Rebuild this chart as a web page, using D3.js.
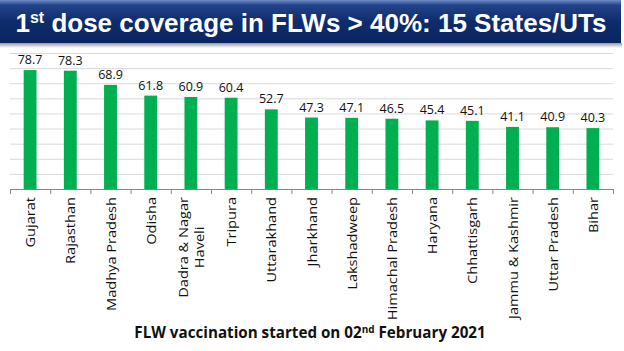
<!DOCTYPE html>
<html>
<head>
<meta charset="utf-8">
<script src="https://cdn.jsdelivr.net/npm/d3@7"></script>
<style>
  body { margin: 0; background: #fff; }
  svg { display: block; }
  .grid line { stroke: #d9d9d9; stroke-width: 1; }
  .grid .domain { display: none; }
  .xaxis .domain, .xaxis line { stroke: #868686; }
  .bar-label { font-family: "Open Sans", sans-serif; font-size: 12.5px; fill: #111; }
  .cat-label { font-family: "Open Sans", sans-serif; font-size: 13px; fill: #111; }
</style>
</head>
<body>
<div id="chart"></div>
<script>
// data
const states = ["Gujarat", "Rajasthan", "Madhya Pradesh", "Odisha", "Dadra & Nagar Haveli",
    "Tripura", "Uttarakhand", "Jharkhand", "Lakshadweep", "Himachal Pradesh",
    "Haryana", "Chhattisgarh", "Jammu & Kashmir", "Uttar Pradesh", "Bihar"];
const coverage = [78.7, 78.3, 68.9, 61.8, 60.9, 60.4, 52.7, 47.3, 47.1, 46.5, 45.4, 45.1, 41.1, 40.9, 40.3];
const gridTicks = [10, 20, 30, 40, 50, 60, 70, 80, 90];
// labels that break over two lines
const labelLines = { "Dadra & Nagar Haveli": ["Dadra & Nagar", "Haveli"] };

const W = 624, H = 351;
const plot = { left: 10, right: 613, top: 53, bottom: 189 };

const svg = d3.select("#chart")
    .append("svg")
    .attr("width", W)
    .attr("height", H);

// title banner
const defs = svg.append("defs");
const grad = defs.append("linearGradient")
    .attr("id", "banner")
    .attr("x1", 0).attr("y1", 0).attr("x2", 0).attr("y2", 1);
grad.append("stop").attr("offset", "0").attr("stop-color", "#6f8cc4");
grad.append("stop").attr("offset", "0.12").attr("stop-color", "#23438a");
grad.append("stop").attr("offset", "0.5").attr("stop-color", "#0e2c6c");
grad.append("stop").attr("offset", "1").attr("stop-color", "#0a2561");

const shadow = defs.append("linearGradient")
    .attr("id", "shadow")
    .attr("x1", 0).attr("y1", 0).attr("x2", 0).attr("y2", 1);
shadow.append("stop").attr("offset", "0").attr("stop-color", "#9a9a9a");
shadow.append("stop").attr("offset", "1").attr("stop-color", "#ffffff");

svg.append("rect")
    .attr("x", 0).attr("y", 43)
    .attr("width", 622).attr("height", 5)
    .attr("fill", "url(#shadow)");

svg.append("rect")
    .attr("x", 0).attr("y", 0)
    .attr("width", 621).attr("height", 43)
    .attr("fill", "url(#banner)");

const title = svg.append("text")
    .attr("x", 311)
    .attr("y", 32)
    .attr("text-anchor", "middle")
    .style("font-family", "'Liberation Sans', Arial, sans-serif")
    .style("font-weight", "bold")
    .style("font-size", "26px")
    .attr("fill", "#fff");
title.append("tspan").text("1");
title.append("tspan").attr("dy", -9).style("font-size", "16px").text("st");
title.append("tspan").attr("dy", 9).text(" dose coverage in FLWs > 40%: 15 States/UTs");

// scales
const xBand = d3.scaleBand()
    .domain(states)
    .range([plot.left, plot.right]);

const xBar = d3.scaleBand()
    .domain(states)
    .range([plot.left, plot.right])
    .paddingInner(0.68)
    .paddingOuter(0.34);

const y = d3.scaleLinear()
    .domain([0, 90])
    .range([plot.bottom, plot.top]);

// gridlines
svg.append("g")
    .attr("class", "grid")
    .attr("transform", "translate(" + plot.left + ",0)")
    .call(d3.axisLeft(y).tickValues(gridTicks).tickSize(-(plot.right - plot.left)).tickFormat(""));

// bars
svg.selectAll(".bar")
    .data(states)
    .enter().append("rect")
    .attr("class", "bar")
    .attr("x", d => xBar(d))
    .attr("y", (d, i) => y(coverage[i]))
    .attr("width", xBar.bandwidth())
    .attr("height", (d, i) => y(0) - y(coverage[i]))
    .attr("fill", "#00b050");

// category axis with ticks between bands
const xIdx = d3.scaleLinear().domain([0, states.length]).range([plot.left, plot.right]);
svg.append("g")
    .attr("class", "xaxis")
    .attr("transform", "translate(0," + plot.bottom + ")")
    .call(d3.axisBottom(xIdx).tickValues(d3.range(states.length + 1)).tickSize(5).tickSizeOuter(0).tickFormat(""));

// value labels
svg.selectAll(".bar-label")
    .data(states)
    .enter().append("text")
    .attr("class", "bar-label")
    .attr("x", d => xBand(d) + xBand.bandwidth() / 2)
    .attr("y", (d, i) => y(coverage[i]) - 6)
    .attr("text-anchor", "middle")
    .text((d, i) => coverage[i]);

// rotated category labels (slide text is a bit stretched along its length)
const lineGap = 16;
const labelTop = 197;
states.forEach(function(s) {
    const lines = labelLines[s] || [s];
    const cx = xBand(s) + xBand.bandwidth() / 2;
    const g = svg.append("text")
        .attr("class", "cat-label")
        .attr("transform", "translate(" + cx + "," + labelTop + ") rotate(-90) scale(1.12,1)");
    const spans = lines.map((t, i) => g.append("tspan")
        .attr("y", (i - (lines.length - 1) / 2) * lineGap)
        .attr("dominant-baseline", "central")
        .text(t));
    if (lines.length === 1) {
        spans[0].attr("x", 0).attr("text-anchor", "end");
    } else {
        const widest = d3.max(spans, sp => sp.node().getComputedTextLength());
        spans.forEach(sp => sp.attr("x", -widest / 2).attr("text-anchor", "middle"));
    }
});

// footnote
const note = svg.append("text")
    .attr("x", 310)
    .attr("y", 338)
    .attr("text-anchor", "middle")
    .style("font-family", "'Open Sans', sans-serif")
    .style("font-weight", "bold")
    .style("font-size", "15.2px")
    .attr("fill", "#111");
note.append("tspan").text("FLW vaccination started on 02");
note.append("tspan").attr("dy", -5).style("font-size", "10px").text("nd");
note.append("tspan").attr("dy", 5).text(" February 2021");
</script>
</body>
</html>
